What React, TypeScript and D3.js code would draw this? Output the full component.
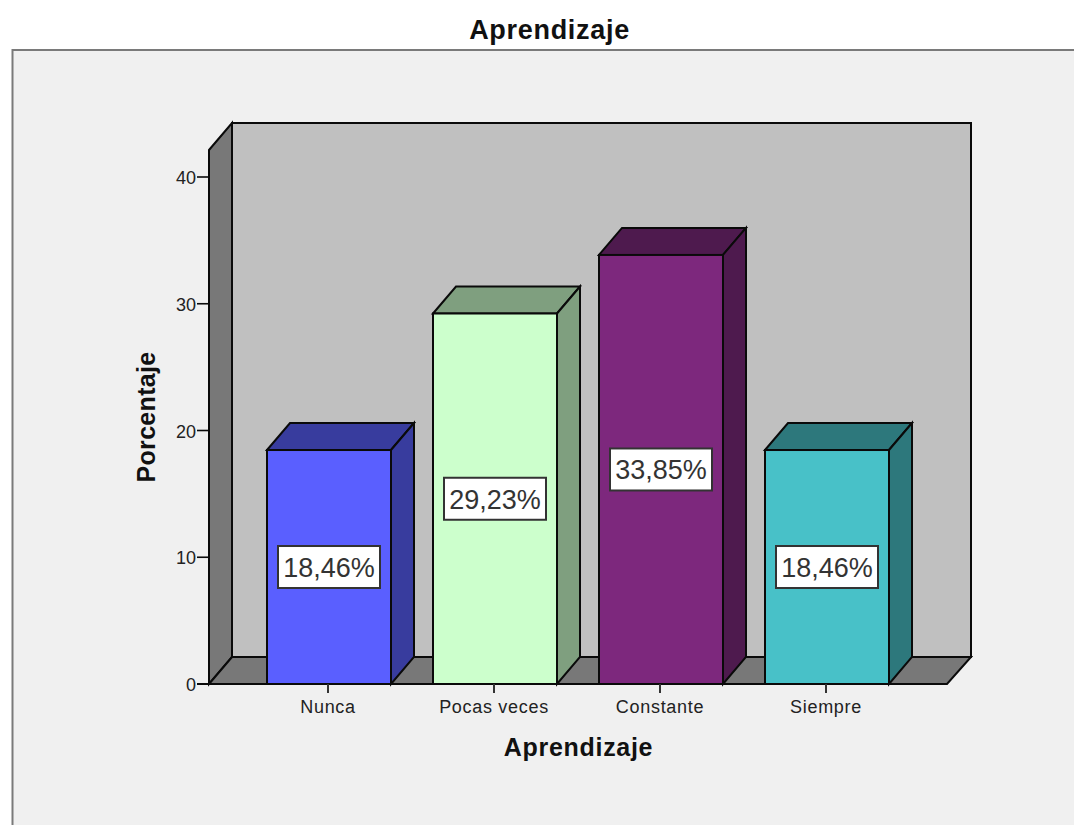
import React from "react";
import * as d3 from "d3";

const categories = ["Nunca", "Pocas veces", "Constante", "Siempre"];
const values = [18.46, 29.23, 33.85, 18.46];
const valueLabels = ["18,46%", "29,23%", "33,85%", "18,46%"];
const yTicks = [0, 10, 20, 30, 40];
const frontColors = ["#5a5fff", "#ccffcc", "#7d287d", "#48c1c8"];
const sideColors = ["#383c9e", "#7f9f7f", "#4e1a4e", "#2d787c"];

const FONT = "'Liberation Sans', Arial, sans-serif";
const W = 1074, H = 825;
const DX = 23, DY = 27;
const X0 = 209, X1 = 947, Y0 = 684;
const STROKE = "#0a0a0a";
const SW = 2;

export default function App() {
  const y = d3.scaleLinear().domain([0, 40]).range([Y0, 177]);
  const x = d3.scaleBand<string>().domain(categories).range([246, 910]).paddingInner(42 / 166).paddingOuter(21 / 166);
  const topY = 150;
  const poly = (pts: number[][]) => pts.map((p) => p.join(",")).join(" ");
  return (
    <svg width={W} height={H} viewBox={`0 0 ${W} ${H}`} style={{ position: "fixed", left: 0, top: 0, display: "block", background: "#fff" }}>
      <rect x={12.5} y={50} width={W + 10} height={H} fill="#f0f0f0" stroke="#7a7a7a" strokeWidth={2} />
      {/* walls */}
      <polygon points={poly([[X0 + DX, topY - DY], [X1 + DX + 1, topY - DY], [X1 + DX + 1, Y0 - DY], [X0 + DX, Y0 - DY]])} fill="#c0c0c0" stroke={STROKE} strokeWidth={SW} />
      <polygon points={poly([[X0, topY], [X0 + DX, topY - DY], [X0 + DX, Y0 - DY], [X0, Y0]])} fill="#787878" stroke={STROKE} strokeWidth={SW} />
      <polygon points={poly([[X0, Y0], [X0 + DX, Y0 - DY], [X1 + DX + 1, Y0 - DY], [X1, Y0]])} fill="#787878" stroke={STROKE} strokeWidth={SW} />
      {/* y ticks */}
      {yTicks.map((t) => (
        <g key={t}>
          <line x1={X0 - 12} x2={X0} y1={y(t)} y2={y(t)} stroke={STROKE} strokeWidth={1.6} />
          <text x={X0 - 13} y={y(t) + 7} textAnchor="end" fontFamily={FONT} fontSize={18} fill="#222">{t}</text>
        </g>
      ))}
      {/* bars */}
      {categories.map((c, i) => {
        const bx = x(c)!;
        const bw = x.bandwidth();
        const by = y(values[i]);
        return (
          <g key={c}>
            <polygon points={poly([[bx, by], [bx + DX, by - DY], [bx + bw + DX, by - DY], [bx + bw, by]])} fill={sideColors[i]} stroke={STROKE} strokeWidth={SW} />
            <polygon points={poly([[bx + bw, by], [bx + bw + DX, by - DY], [bx + bw + DX, Y0 - DY], [bx + bw, Y0]])} fill={sideColors[i]} stroke={STROKE} strokeWidth={SW} />
            <rect x={bx} y={by} width={bw} height={Y0 - by} fill={frontColors[i]} stroke={STROKE} strokeWidth={SW} />
          </g>
        );
      })}
      {/* baseline + x ticks + labels */}
      <line x1={X0 - 12} x2={X1} y1={Y0} y2={Y0} stroke={STROKE} strokeWidth={SW} />
      {categories.map((c) => {
        const cx = x(c)! + x.bandwidth() / 2;
        return (
          <g key={c}>
            <line x1={cx - 1} x2={cx - 1} y1={Y0} y2={Y0 + 9} stroke="#333" strokeWidth={2} />
            <text x={cx - 1} y={713} textAnchor="middle" fontFamily={FONT} fontSize={18} letterSpacing={0.7} fill="#222">{c}</text>
          </g>
        );
      })}
      {/* value labels */}
      {categories.map((c, i) => {
        const cx = x(c)! + x.bandwidth() / 2;
        const cy = y(values[i] / 2);
        return (
          <g key={c + "l"}>
            <rect x={cx - 51} y={cy - 21} width={102} height={42} fill="#fff" stroke="#333" strokeWidth={2} />
            <text x={cx} y={cy + 10} textAnchor="middle" fontFamily={FONT} fontSize={27} fill="#333">{valueLabels[i]}</text>
          </g>
        );
      })}
      <text x={549.5} y={39} textAnchor="middle" fontFamily={FONT} fontWeight="bold" fontSize={27} letterSpacing={0.7} fill="#111">Aprendizaje</text>
      <text x={578.5} y={756} textAnchor="middle" fontFamily={FONT} fontWeight="bold" fontSize={25} letterSpacing={0.7} fill="#111">Aprendizaje</text>
      <text transform="translate(155,417) rotate(-90)" textAnchor="middle" fontFamily={FONT} fontWeight="bold" fontSize={25} letterSpacing={0.3} fill="#111">Porcentaje</text>
    </svg>
  );
}
